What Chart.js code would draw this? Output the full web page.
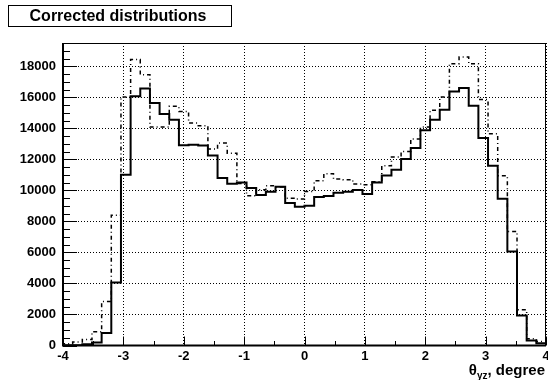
<!DOCTYPE html>
<html><head><meta charset="utf-8">
<script src="https://cdn.jsdelivr.net/npm/chart.js@4"></script>
<style>html,body{margin:0;padding:0;background:#fff}#wrap{width:548px;height:380px;position:relative}</style>
</head><body><div id="wrap"><canvas id="c" width="548" height="380"></canvas></div>
<script>
const titleText = 'Corrected distributions';
const xTitleMain = '\u03b8';
const xTitleSub = 'yz';
const xTitleRest = ', degree';
const xMin = -4, xMax = 4;
const yMin = 0, yMax = 19500;
const xTickValues = [-4, -3, -2, -1, 0, 1, 2, 3, 4];
const yTickValues = [0, 2000, 4000, 6000, 8000, 10000, 12000, 14000, 16000, 18000];
const yMinorStep = 500;
const xMinorStep = 0.5;

// 50 bins from -4 to 4
const solidCounts = [20, 20, 85, 190, 800, 4060, 11000, 16060, 16560, 15630,
  14920, 14560, 12910, 12940, 12900, 12250, 10790, 10430, 10510, 10150,
  9700, 9910, 10230, 9180, 8940, 9010, 9570, 9630, 9850, 9910,
  10020, 9760, 10510, 10960, 11330, 12020, 12730, 13870, 14560, 15200,
  16380, 16600, 15460, 13370, 11590, 9460, 6060, 1930, 330, 140];
const dashedCounts = [120, 220, 380, 890, 2840, 8390, 16020, 18430, 17460, 14080,
  14080, 15420, 15090, 14340, 14170, 12660, 13050, 12400, 10450, 9650,
  10040, 10300, 10210, 9500, 9440, 9930, 10620, 11070, 10730, 10690,
  10410, 10360, 10550, 11590, 12150, 12510, 13310, 14080, 15160, 16020,
  18170, 18600, 18170, 15850, 13650, 10940, 7350, 2300, 430, 250];

function histPoints(counts) {
  const w = (xMax - xMin) / counts.length;
  const pts = [{x: xMin, y: 0}];
  counts.forEach((v, i) => pts.push({x: xMin + i * w, y: v}));
  pts.push({x: xMax, y: counts[counts.length - 1]});
  pts.push({x: xMax, y: 0});
  return pts;
}

const FONT = '"Liberation Sans", Arial, Helvetica, sans-serif';

const rootPlugin = {
  id: 'rootStyle',
  afterDraw(chart) {
    const ctx = chart.ctx;
    const a = chart.chartArea;
    const xs = chart.scales.x, ys = chart.scales.y;
    ctx.save();
    ctx.strokeStyle = '#000';
    ctx.setLineDash([]);
    // frame
    ctx.lineWidth = 1;
    ctx.beginPath();
    ctx.moveTo(a.left, a.top + 0.5); ctx.lineTo(a.right, a.top + 0.5);
    ctx.moveTo(a.right - 0.5, a.top); ctx.lineTo(a.right - 0.5, a.bottom);
    ctx.stroke();
    ctx.lineWidth = 2;
    ctx.beginPath();
    ctx.moveTo(a.left, a.bottom); ctx.lineTo(a.right, a.bottom);
    ctx.moveTo(a.left, a.top); ctx.lineTo(a.left, a.bottom + 1);
    ctx.stroke();
    // y ticks (inward)
    ctx.lineWidth = 1;
    ctx.beginPath();
    for (let v = yMin; v <= yMax + 1e-6; v += yMinorStep) {
      const py = Math.round(ys.getPixelForValue(v)) + 0.5;
      const major = yTickValues.includes(v);
      ctx.moveTo(a.left, py); ctx.lineTo(a.left + (major ? 14 : 7), py);
    }
    // x ticks (inward)
    for (let v = xMin; v <= xMax + 1e-6; v += xMinorStep) {
      const px = Math.round(xs.getPixelForValue(v)) + 0.5;
      const major = xTickValues.includes(v);
      ctx.moveTo(px, a.bottom); ctx.lineTo(px, a.bottom - (major ? 9 : 4.5));
    }
    ctx.stroke();
    // title box
    ctx.fillStyle = '#fff';
    ctx.fillRect(8, 5, 224, 22);
    ctx.lineWidth = 1;
    ctx.strokeRect(8.5, 5.5, 223, 21);
    ctx.fillStyle = '#000';
    ctx.font = 'bold 16px ' + FONT;
    ctx.textAlign = 'center';
    ctx.textBaseline = 'middle';
    ctx.fillText(titleText, 118, 16.5);
    // x axis title
    const mainFont = 'bold 15px ' + FONT;
    const subFont = 'bold 10px ' + FONT;
    ctx.textAlign = 'left';
    ctx.textBaseline = 'alphabetic';
    ctx.font = mainFont;
    const w1 = ctx.measureText(xTitleMain).width;
    const w3 = ctx.measureText(xTitleRest).width;
    ctx.font = subFont;
    const w2 = ctx.measureText(xTitleSub).width;
    let x0 = 545 - (w1 + w2 + w3);
    const base = 375;
    ctx.font = mainFont; ctx.fillText(xTitleMain, x0, base); x0 += w1;
    ctx.font = subFont; ctx.fillText(xTitleSub, x0, base + 4); x0 += w2;
    ctx.font = mainFont; ctx.fillText(xTitleRest, x0, base);
    ctx.restore();
  }
};

new Chart(document.getElementById('c'), {
  type: 'line',
  data: {
    datasets: [
      {
        label: 'dashed',
        data: histPoints(dashedCounts),
        borderColor: '#000',
        borderWidth: 1.5,
        borderDash: [4, 3, 1, 3],
        stepped: true,
        pointRadius: 0,
        fill: false
      },
      {
        label: 'solid',
        data: histPoints(solidCounts),
        borderColor: '#000',
        borderWidth: 2,
        stepped: true,
        pointRadius: 0,
        fill: false
      }
    ]
  },
  options: {
    responsive: false,
    animation: false,
    devicePixelRatio: 1,
    layout: {padding: {left: 0, right: 2, top: 43, bottom: 0}},
    plugins: {legend: {display: false}, tooltip: {enabled: false}},
    scales: {
      x: {
        type: 'linear', min: xMin, max: xMax,
        afterBuildTicks(s) { s.ticks = xTickValues.map(v => ({value: v})); },
        ticks: {
          font: {family: FONT, weight: 'bold', size: 13}, color: '#000',
          padding: 3, maxRotation: 0, autoSkip: false,
          callback: v => String(v)
        },
        grid: {color: '#000', lineWidth: 1, drawTicks: false},
        border: {display: false, dash: [1, 2]},
        afterFit(s) { s.height = 34.5; s.paddingLeft = 0; s.paddingRight = 0; }
      },
      y: {
        type: 'linear', min: yMin, max: yMax,
        afterBuildTicks(s) { s.ticks = yTickValues.map(v => ({value: v})); },
        ticks: {
          font: {family: FONT, weight: 'bold', size: 13}, color: '#000',
          padding: 7, autoSkip: false,
          callback: v => String(v)
        },
        grid: {color: '#000', lineWidth: 1, drawTicks: false},
        border: {display: false, dash: [1, 2]},
        afterFit(s) { s.width = 63; s.paddingTop = 0; s.paddingBottom = 0; }
      }
    }
  },
  plugins: [rootPlugin]
});
</script>
</body></html>
